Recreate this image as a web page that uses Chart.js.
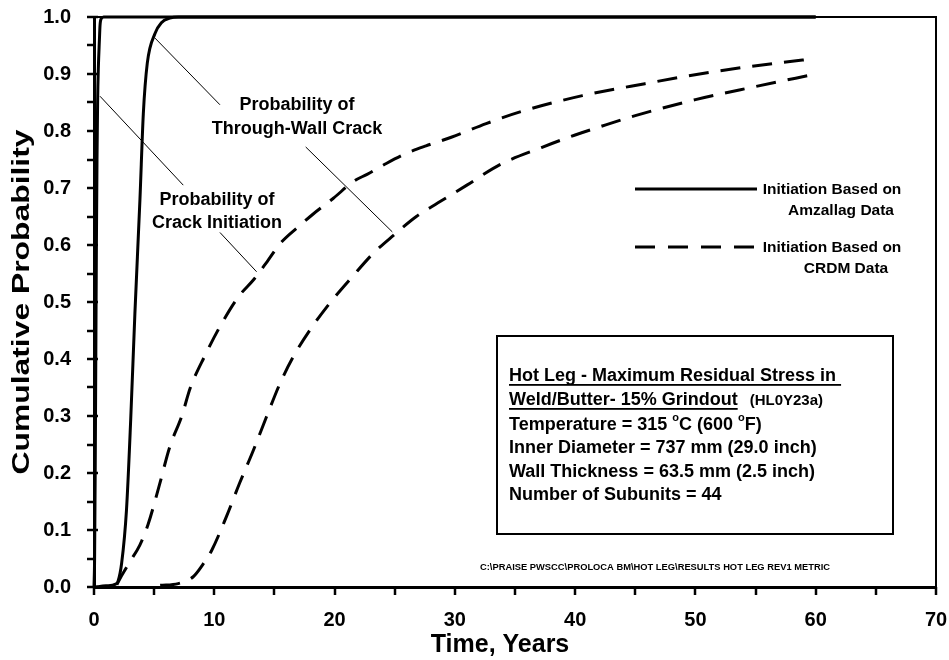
<!DOCTYPE html>
<html>
<head>
<meta charset="utf-8">
<script src="https://cdn.jsdelivr.net/npm/chart.js@4.4.1/dist/chart.umd.min.js"></script>
<style>
  html, body { margin: 0; padding: 0; background: #fff; }
  #wrap { width: 949px; height: 660px; }
</style>
</head>
<body>
<div id="wrap"><canvas id="c" width="949" height="660"></canvas></div>
<script>
// Cumulative probability vs. time, years
const FONT = "'Liberation Sans', Arial, Helvetica, sans-serif";

// Initiation based on Amzallag data - crack initiation
const amzInitX = [0, 0.05, 0.1, 0.15, 0.2, 0.25, 0.3, 0.36, 0.45, 0.5, 0.6, 0.8, 60];
const amzInitY = [0, 0.05, 0.2, 0.4, 0.6, 0.75, 0.85, 0.91, 0.96, 0.985, 0.997, 1.0, 1.0];

// Initiation based on Amzallag data - through-wall crack
const amzTwcX = [0, 1, 1.8, 2.0, 2.3, 2.7, 3.05, 3.4, 3.82, 4.1, 4.43, 5.07, 5.6, 6.3, 7, 60];
const amzTwcY = [0, 0.002, 0.005, 0.01, 0.042, 0.135, 0.293, 0.48, 0.68, 0.83, 0.919, 0.971, 0.99, 0.998, 1.0, 1.0];

// Initiation based on CRDM data - crack initiation
const crdmInitX = [1.9, 2.3, 3.0, 3.8, 4.5, 5.4, 6.3, 7.3, 8.0, 9.2, 10.5, 12.0, 13.3, 14.4, 15.5, 17.1, 18.2, 19.9, 21.6, 22.7, 24.3, 26.0, 27.6, 29.7, 32.6, 35.5, 40.6, 45.8, 51.5, 56.7, 60];
const crdmInitY = [0.004, 0.02, 0.045, 0.073, 0.11, 0.176, 0.246, 0.3, 0.349, 0.405, 0.458, 0.509, 0.54, 0.571, 0.603, 0.634, 0.654, 0.682, 0.712, 0.724, 0.743, 0.761, 0.774, 0.789, 0.813, 0.834, 0.862, 0.883, 0.904, 0.919, 0.927];

// Initiation based on CRDM data - through-wall crack
const crdmTwcX = [5.5, 7, 8.25, 9, 9.8, 11, 12.1, 13.25, 14.35, 15.46, 16.57, 17.96, 19.6, 21.5, 23.2, 24.9, 26.8, 28.6, 31, 33.75, 37.2, 40, 42, 45, 50, 55, 60];
const crdmTwcY = [0.003, 0.006, 0.018, 0.038, 0.065, 0.123, 0.182, 0.24, 0.299, 0.357, 0.404, 0.451, 0.498, 0.545, 0.585, 0.617, 0.65, 0.674, 0.705, 0.741, 0.771, 0.793, 0.807, 0.827, 0.855, 0.878, 0.9];

// Axis ticks
const xTicks = [0, 10, 20, 30, 40, 50, 60, 70];
const yTicks = [0.0, 0.1, 0.2, 0.3, 0.4, 0.5, 0.6, 0.7, 0.8, 0.9, 1.0];

// Leader lines from the curve labels, in data units [x1, y1, x2, y2]
const leaderTwcTop = [5.07, 0.963, 10.47, 0.846];
const leaderTwcLow = [17.6, 0.772, 24.8, 0.623];
const leaderInitTop = [0.5, 0.861, 7.42, 0.705];
const leaderInitLow = [10.47, 0.622, 13.52, 0.553];

const pts = (xs, ys) => xs.map((x, i) => ({ x: x, y: ys[i] }));

const lineBase = {
  borderColor: '#000',
  borderWidth: 3,
  pointRadius: 0,
  fill: false,
  cubicInterpolationMode: 'monotone',
  borderCapStyle: 'butt',
  clip: false
};

function text(ctx, str, x, y, size, align, maxW) {
  ctx.font = 'bold ' + size + 'px ' + FONT;
  ctx.textAlign = align || 'left';
  ctx.textBaseline = 'middle';
  if (maxW) ctx.fillText(str, x, y, maxW); else ctx.fillText(str, x, y);
}

const decor = {
  id: 'decor',
  afterDraw(chart) {
    const ctx = chart.ctx;
    const xs = chart.scales.x, ys = chart.scales.y;
    const a = chart.chartArea;
    ctx.save();
    ctx.fillStyle = '#000';
    ctx.strokeStyle = '#000';

    // frame: top and right
    ctx.lineWidth = 2;
    ctx.beginPath();
    ctx.moveTo(a.left, a.top); ctx.lineTo(a.right, a.top); ctx.lineTo(a.right, a.bottom);
    ctx.stroke();

    // tick marks
    ctx.lineWidth = 2.5;
    for (let v = 0; v <= 70.001; v += 5) {
      const px = Math.round(xs.getPixelForValue(v));
      ctx.beginPath(); ctx.moveTo(px, a.bottom); ctx.lineTo(px, a.bottom + 8); ctx.stroke();
    }
    for (let i = 0; i <= 20; i++) {
      const py = Math.round(ys.getPixelForValue(i * 0.05));
      const major = i % 2 === 0;
      ctx.beginPath();
      ctx.moveTo(a.left - 7, py);
      ctx.lineTo(major ? a.left + 4 : a.left, py);
      ctx.stroke();
    }

    // leader lines
    ctx.lineWidth = 1;
    [leaderTwcTop, leaderTwcLow, leaderInitTop, leaderInitLow].forEach(l => {
      ctx.beginPath();
      ctx.moveTo(xs.getPixelForValue(l[0]), ys.getPixelForValue(l[1]));
      ctx.lineTo(xs.getPixelForValue(l[2]), ys.getPixelForValue(l[3]));
      ctx.stroke();
    });

    // curve labels
    text(ctx, 'Probability of', 297, 105, 18, 'center');
    text(ctx, 'Through-Wall Crack', 297, 129, 18, 'center');
    text(ctx, 'Probability of', 217, 200, 18, 'center');
    text(ctx, 'Crack Initiation', 217, 223, 18, 'center');

    // legend
    ctx.lineWidth = 3;
    ctx.setLineDash([]);
    ctx.beginPath(); ctx.moveTo(635, 189); ctx.lineTo(757, 189); ctx.stroke();
    ctx.setLineDash([20, 13]);
    ctx.beginPath(); ctx.moveTo(635, 247); ctx.lineTo(756, 247); ctx.stroke();
    ctx.setLineDash([]);
    text(ctx, 'Initiation Based on', 832, 190, 15.5, 'center');
    text(ctx, 'Amzallag Data', 841, 211, 15.5, 'center');
    text(ctx, 'Initiation Based on', 832, 248, 15.5, 'center');
    text(ctx, 'CRDM Data', 846, 269, 15.5, 'center');

    // description box
    ctx.lineWidth = 2;
    ctx.strokeRect(497, 336, 396, 198);
    const L = 509;
    text(ctx, 'Hot Leg - Maximum Residual Stress in ', L, 376, 18);
    let w1 = ctx.measureText('Hot Leg - Maximum Residual Stress in ').width;
    ctx.fillRect(L, 384, w1, 1.8);
    text(ctx, 'Weld/Butter- 15% Grindout', L, 400, 18);
    let w2 = ctx.measureText('Weld/Butter- 15% Grindout').width;
    ctx.fillRect(L, 408, w2, 1.8);
    text(ctx, '(HL0Y23a)', L + w2 + 12, 401, 15);

    // temperature line with raised degree marks
    let x = L;
    const seg = (s, y, size) => { text(ctx, s, x, y, size); x += ctx.measureText(s).width; };
    seg('Temperature = 315 ', 425, 18);
    seg('o', 418, 11);
    seg('C (600 ', 425, 18);
    seg('o', 418, 11);
    seg('F)', 425, 18);

    text(ctx, 'Inner Diameter = 737 mm (29.0 inch)', L, 448, 18);
    text(ctx, 'Wall Thickness = 63.5 mm (2.5 inch)', L, 472, 18);
    text(ctx, 'Number of Subunits = 44', L, 495, 18);

    // file path note
    text(ctx, 'C:\\PRAISE PWSCC\\PROLOCA BM\\HOT LEG\\RESULTS HOT LEG REV1 METRIC', 655, 567, 9.5, 'center', 350);

    // axis titles
    text(ctx, 'Time, Years', 500, 645, 25, 'center');
    ctx.save();
    ctx.translate(23, (a.top + a.bottom) / 2);
    ctx.rotate(-Math.PI / 2);
    ctx.font = 'bold 23px ' + FONT;
    const tw = ctx.measureText('Cumulative Probability').width;
    ctx.scale(345 / tw, 1);
    ctx.textAlign = 'center';
    ctx.textBaseline = 'middle';
    ctx.fillText('Cumulative Probability', 0, 0);
    ctx.restore();

    ctx.restore();
  }
};

new Chart(document.getElementById('c'), {
  type: 'line',
  data: {
    datasets: [
      Object.assign({ label: 'Amzallag - Initiation', data: pts(amzInitX, amzInitY) }, lineBase),
      Object.assign({ label: 'Amzallag - Through-Wall', data: pts(amzTwcX, amzTwcY) }, lineBase),
      Object.assign({ label: 'CRDM - Initiation', data: pts(crdmInitX, crdmInitY), borderDash: [20, 12] }, lineBase),
      Object.assign({ label: 'CRDM - Through-Wall', data: pts(crdmTwcX, crdmTwcY), borderDash: [20, 12] }, lineBase)
    ]
  },
  options: {
    responsive: false,
    animation: false,
    devicePixelRatio: 1,
    layout: { padding: { left: 0, right: 13, top: 17, bottom: 0 } },
    plugins: { legend: { display: false }, tooltip: { enabled: false } },
    scales: {
      x: {
        type: 'linear', min: 0, max: 70,
        afterFit(s) { s.height = 73; s.paddingLeft = 0; s.paddingRight = 0; },
        afterBuildTicks(s) { s.ticks = xTicks.map(v => ({ value: v })); },
        ticks: { color: '#000', font: { family: FONT, size: 20, weight: 'bold' }, padding: 21, maxRotation: 0 },
        grid: { display: false, drawTicks: false },
        border: { display: true, color: '#000', width: 3 }
      },
      y: {
        type: 'linear', min: 0, max: 1,
        afterFit(s) { s.width = 94; s.paddingTop = 0; s.paddingBottom = 0; },
        afterBuildTicks(s) { s.ticks = yTicks.map(v => ({ value: v })); },
        ticks: { color: '#000', font: { family: FONT, size: 20, weight: 'bold' }, padding: 23, callback: v => v.toFixed(1) },
        grid: { display: false, drawTicks: false },
        border: { display: true, color: '#000', width: 3 }
      }
    }
  },
  plugins: [decor]
});
</script>
</body>
</html>
